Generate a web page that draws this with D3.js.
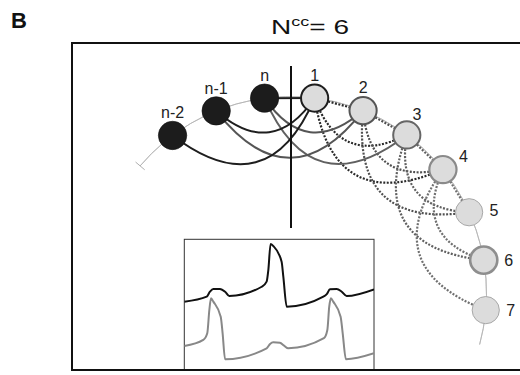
<!DOCTYPE html>
<html>
<head>
<meta charset="utf-8">
<script src="https://cdn.jsdelivr.net/npm/d3@7"></script>
<style>
  html, body { margin: 0; padding: 0; background: #fff; }
  svg { display: block; }
  text { font-family: "Liberation Sans", Arial, sans-serif; }
</style>
</head>
<body>
<svg id="chart" width="520" height="375"></svg>
<script>
// ---- Node chain along the ring: three past cells, then future cells 1..7
const nodeLabels = ["n-2", "n-1", "n", "1", "2", "3", "4", "5", "6", "7"];
const pastNodes = ["n-2", "n-1", "n"];

// Connections that cross the cut (past -> future) and among the future cells
const crossLinks = [["n", "1"], ["n", "2"], ["n", "3"], ["n-1", "1"], ["n-1", "2"], ["n-2", "1"]];
const innerLinks = [
  ["1", "2"], ["1", "3"], ["1", "4"],
  ["2", "3"], ["2", "4"], ["2", "5"],
  ["3", "4"], ["3", "5"], ["3", "6"],
  ["4", "5"], ["4", "6"], ["4", "7"]
];

// Inset recordings: time (ms) and amplitude (a.u.)
const topTime  = [0, 118, 135, 153, 188, 215, 237, 408, 434, 443, 455, 469, 513, 522, 540, 733, 751, 768, 803, 830, 856, 1000];
const topValue = [52.3, 56.1, 59.9, 62.0, 62.0, 59.9, 56.6, 63.7, 67.6, 76.5, 96.4, 94.9, 82.9, 71.4, 48.4, 56.1, 58.1, 61.7, 62.0, 59.9, 56.6, 61.7];
const botTime  = [0, 100, 121, 132, 141, 153, 192, 202, 215, 434, 452, 469, 504, 526, 548, 736, 754, 764, 773, 785, 824, 835, 852, 1000];
const botValue = [18.4, 23.0, 28.1, 45.9, 54.9, 52.3, 40.8, 28.1, 8.2, 16.6, 19.9, 21.2, 20.9, 18.6, 16.6, 24.3, 30.6, 48.4, 54.9, 52.3, 40.8, 28.1, 8.2, 12.8];

// ---- Styling
const ringStroke = { "1": "#1e1e1e", "2": "#555", "3": "#666", "4": "#8a8a8a", "5": "#a8a8a8", "6": "#8e8e8e", "7": "#a8a8a8" };
const ringWidth  = { "1": 2, "2": 2, "3": 2, "4": 2.2, "5": 1, "6": 2.6, "7": 1 };
const linkColor  = { "1": "#1e1e1e", "2": "#555", "3": "#606060", "4": "#777" };
const dotColor   = { "1": "#2a2a2a", "2": "#505050", "3": "#606060", "4": "#707070" };

const svg = d3.select("#chart");

// Panel letter and title
svg.append("text").attr("x", 11).attr("y", 28)
  .attr("font-size", 22).attr("font-weight", "bold").attr("fill", "#111").text("B");

const title = svg.append("text").attr("x", 271).attr("y", 34)
  .attr("font-size", 21).attr("fill", "#111")
  .attr("textLength", 78).attr("lengthAdjust", "spacingAndGlyphs");
title.append("tspan").text("N");
title.append("tspan").attr("font-size", 13.5).attr("dy", -8.5).text("cc");
title.append("tspan").attr("dy", 8.5).text("= 6");

// Frame
svg.append("rect").attr("x", 72).attr("y", 43).attr("width", 460).attr("height", 327)
  .attr("fill", "none").attr("stroke", "#111").attr("stroke-width", 2);

// ---- Ring geometry
const cx = 290, cy = 293, R = 196.5;
const angle = d3.scaleLinear().domain([0, nodeLabels.length - 1]).range([-36.7, 95]);
const rad = a => a * Math.PI / 180;
const polar = (a, r) => [cx + r * Math.sin(rad(a)), cy - r * Math.cos(rad(a))];

const nodes = nodeLabels.map((label, i) => {
  const a = angle(i);
  const [x, y] = polar(a, R);
  return { label, i, a, x, y, past: pastNodes.includes(label) };
});
const byLabel = new Map(nodes.map(d => [d.label, d]));

// Thin guide ring with an end tick
const ringArc = d3.arc().innerRadius(R).outerRadius(R)
  .startAngle(rad(-49.7)).endAngle(rad(105.2));
svg.append("path").attr("transform", `translate(${cx},${cy})`).attr("d", ringArc())
  .attr("fill", "none").attr("stroke", "#b4b4b4").attr("stroke-width", 0.8);
const t0 = polar(-49.7, R - 6), t1 = polar(-49.7, R + 6);
svg.append("line").attr("x1", t0[0]).attr("y1", t0[1]).attr("x2", t1[0]).attr("y2", t1[1])
  .attr("stroke", "#999").attr("stroke-width", 0.8);

// Curved link: quadratic bow toward the ring centre, bigger for distant pairs
function linkPath(s, t) {
  const A = byLabel.get(s), B = byLabel.get(t);
  const d = Math.abs(B.i - A.i);
  const mx = (A.x + B.x) / 2, my = (A.y + B.y) / 2;
  const vx = cx - mx, vy = cy - my, len = Math.hypot(vx, vy);
  const sag = d <= 1 ? 0 : 28 * Math.pow(d - 1, 0.75);
  const c = [mx + vx / len * 2 * sag, my + vy / len * 2 * sag];
  const p = d3.path();
  p.moveTo(A.x, A.y);
  p.quadraticCurveTo(c[0], c[1], B.x, B.y);
  return p.toString();
}

svg.append("g").selectAll("path").data(innerLinks).join("path")
  .attr("d", d => linkPath(d[0], d[1]))
  .attr("fill", "none").attr("stroke", d => dotColor[d[0]])
  .attr("stroke-width", 2.2).attr("stroke-dasharray", "2 1.5");

svg.append("g").selectAll("path").data(crossLinks).join("path")
  .attr("d", d => linkPath(d[0], d[1]))
  .attr("fill", "none").attr("stroke", d => linkColor[d[1]])
  .attr("stroke-width", 2);

// Cut line
svg.append("line").attr("x1", 291).attr("x2", 291).attr("y1", 66).attr("y2", 228)
  .attr("stroke", "#111").attr("stroke-width", 2);

// Cells
svg.append("g").selectAll("circle").data(nodes).join("circle")
  .attr("cx", d => d.x).attr("cy", d => d.y)
  .attr("r", d => d.past ? 14.2 : 13.6)
  .attr("fill", d => d.past ? "#1c1c1c" : "#dcdcdc")
  .attr("stroke", d => d.past ? "#111" : ringStroke[d.label])
  .attr("stroke-width", d => d.past ? 0.6 : ringWidth[d.label]);

// Labels: above the upper cells, turning to the right side further round
svg.append("g").selectAll("text").data(nodes).join("text")
  .each(function (d) {
    const phi = rad(Math.max(0, Math.min(90, (d.a - 25) * 2.1)));
    d3.select(this)
      .attr("x", d.x + 25 * Math.sin(phi))
      .attr("y", d.y - 23 * Math.cos(phi))
      .attr("dy", "0.36em");
  })
  .attr("text-anchor", "middle").attr("font-size", 16).attr("fill", "#222")
  .text(d => d.label);

// ---- Inset with two traces
const ix0 = 184.3, ix1 = 374, iy0 = 239.3, iy1 = 370;
const xs = d3.scaleLinear().domain([0, 1000]).range([ix0, ix1]);
const ys = d3.scaleLinear().domain([0, 100]).range([iy1, iy0]);

svg.append("defs").append("clipPath").attr("id", "insetClip")
  .append("rect").attr("x", ix0).attr("y", iy0).attr("width", ix1 - ix0).attr("height", iy1 - iy0);

svg.append("rect").attr("x", ix0).attr("y", iy0).attr("width", ix1 - ix0).attr("height", iy1 - iy0)
  .attr("fill", "#fff").attr("stroke", "#333").attr("stroke-width", 1);

const line = d3.line().x(d => xs(d[0])).y(d => ys(d[1])).curve(d3.curveMonotoneX);
const g = svg.append("g").attr("clip-path", "url(#insetClip)");
g.append("path").attr("d", line(d3.zip(botTime, botValue)))
  .attr("fill", "none").attr("stroke", "#888").attr("stroke-width", 2);
g.append("path").attr("d", line(d3.zip(topTime, topValue)))
  .attr("fill", "none").attr("stroke", "#111").attr("stroke-width", 2);

// Frame bottom edge redrawn over the inset
svg.append("line").attr("x1", 71).attr("x2", 520).attr("y1", 370).attr("y2", 370)
  .attr("stroke", "#111").attr("stroke-width", 2);
</script>
</body>
</html>
